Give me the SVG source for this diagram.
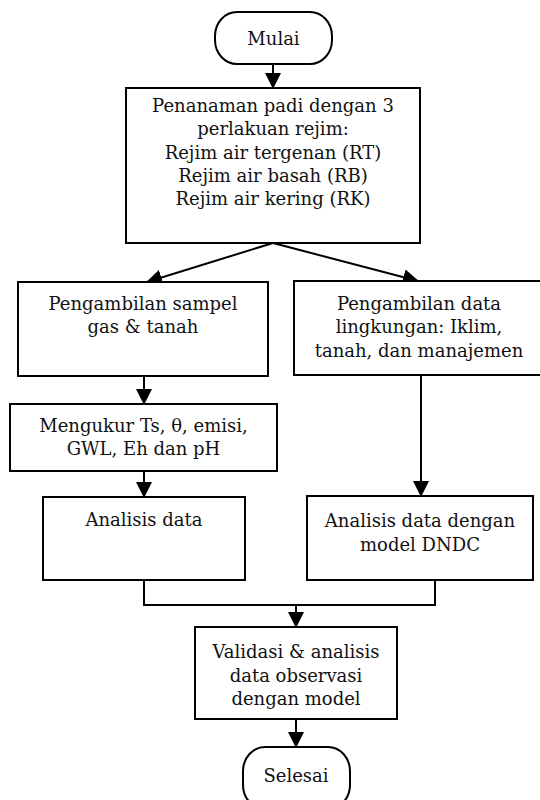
<svg xmlns="http://www.w3.org/2000/svg" width="540" height="800" viewBox="0 0 540 800">
<style>
.b{fill:#fff;stroke:#000;stroke-width:2}
.t{font-family:"DejaVu Serif","Liberation Serif",serif;font-size:18px;fill:#111;text-anchor:middle}
.c{fill:none;stroke:#000;stroke-width:2}
</style>
<defs>
<marker id="ah" viewBox="0 0 16 16" refX="15" refY="8" markerWidth="16" markerHeight="16" markerUnits="userSpaceOnUse" orient="auto">
<path d="M0,0 L16,8 L0,16 z" fill="#000"/>
</marker>
</defs>
<rect width="540" height="800" fill="#fff"/>
<g id="connectors">
<line class="c" x1="273" y1="64" x2="273" y2="88" marker-end="url(#ah)"/>
<line class="c" x1="273" y1="243" x2="147" y2="282" marker-end="url(#ah)"/>
<line class="c" x1="273" y1="243" x2="418" y2="281" marker-end="url(#ah)"/>
<line class="c" x1="144" y1="376" x2="144" y2="404" marker-end="url(#ah)"/>
<line class="c" x1="421" y1="375" x2="421" y2="496" marker-end="url(#ah)"/>
<line class="c" x1="144" y1="471" x2="144" y2="497" marker-end="url(#ah)"/>
<polyline class="c" points="144,580 144,605 435,605 435,580"/>
<line class="c" x1="296" y1="605" x2="296" y2="627" marker-end="url(#ah)"/>
<line class="c" x1="296" y1="719" x2="296" y2="747" marker-end="url(#ah)"/>
</g>
<g id="mulai">
<rect class="b" x="215" y="12" width="117" height="52" rx="22" ry="24"/>
<text class="t" x="273.5" y="45">Mulai</text>
</g>
<g id="penanaman">
<rect class="b" x="126" y="88" width="294" height="155"/>
<text class="t" x="273" y="112">Penanaman padi dengan 3</text>
<text class="t" x="273" y="135">perlakuan rejim:</text>
<text class="t" x="273" y="159">Rejim air tergenan (RT)</text>
<text class="t" x="273" y="182">Rejim air basah (RB)</text>
<text class="t" x="273" y="205">Rejim air kering (RK)</text>
</g>
<g id="sampel">
<rect class="b" x="18" y="282" width="250" height="94"/>
<text class="t" x="143" y="310">Pengambilan sampel</text>
<text class="t" x="143" y="333">gas &amp; tanah</text>
</g>
<g id="lingkungan">
<rect class="b" x="294" y="281" width="247" height="94"/>
<text class="t" x="419" y="310">Pengambilan data</text>
<text class="t" x="419" y="333">lingkungan: Iklim,</text>
<text class="t" x="419" y="357">tanah, dan manajemen</text>
</g>
<g id="mengukur">
<rect class="b" x="10" y="404" width="267" height="67"/>
<text class="t" x="143.5" y="432">Mengukur Ts, θ, emisi,</text>
<text class="t" x="143.5" y="455">GWL, Eh dan pH</text>
</g>
<g id="analisis">
<rect class="b" x="43" y="497" width="202" height="83"/>
<text class="t" x="144" y="526">Analisis data</text>
</g>
<g id="dndc">
<rect class="b" x="307" y="496" width="226" height="84"/>
<text class="t" x="420" y="527">Analisis data dengan</text>
<text class="t" x="420" y="551">model DNDC</text>
</g>
<g id="validasi">
<rect class="b" x="195" y="627" width="202" height="92"/>
<text class="t" x="296" y="658">Validasi &amp; analisis</text>
<text class="t" x="296" y="682">data observasi</text>
<text class="t" x="296" y="705">dengan model</text>
</g>
<g id="selesai">
<rect class="b" x="243" y="747" width="107" height="62" rx="22" ry="24"/>
<text class="t" x="296" y="782">Selesai</text>
</g>
</svg>
